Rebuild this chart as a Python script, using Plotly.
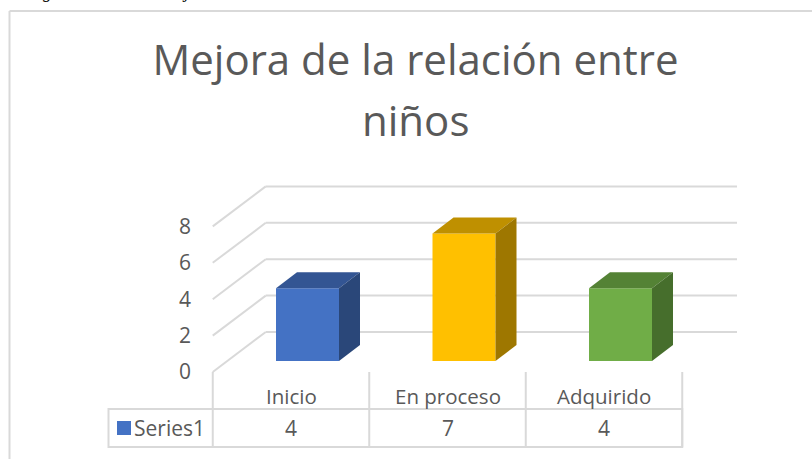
import plotly.graph_objects as go

categories = ["Inicio", "En proceso", "Adquirido"]
values = [4, 7, 4]
series_name = "Series1"
y_ticks = [0, 2, 4, 6, 8]
front_colors = ["#4472C4", "#FFC000", "#70AD47"]
top_colors = ["#335593", "#BF9000", "#548235"]
side_colors = ["#2A4779", "#9E7700", "#466E2C"]
title_line_1 = "Mejora de la relación entre"
title_line_2 = "niños"
caption = "Figura 1. Nivel de mejora"

W, H = 812, 459
STEP, X0, UNIT, Y0 = 156.5, 291.0, 18.2, 372.0
FONT = "Open Sans"
GREY = "#595959"
GRID = "#D9D9D9"

def xv(px):
    return (px - X0) / STEP

def yv(py):
    return (Y0 - py) / UNIT

# sizes of the pseudo-3D construction, in axis units
dx_depth, dy_depth = 53 / STEP, 40 / UNIT
bar_shift, bar_half = 16.5 / STEP, 31.5 / STEP
bar_dx, bar_dy = 21 / STEP, 16 / UNIT
bar_floor = 11 / UNIT
grid_left = -0.5
grid_right = xv(737)

fig = go.Figure()
shapes = []
line_style = dict(color=GRID, width=2)

# gridlines: oblique wall part + back wall part, under the bars
for v in y_ticks:
    shapes.append(dict(type="line", layer="below", x0=grid_left, x1=grid_left + dx_depth,
                       y0=v, y1=v + dy_depth, line=line_style))
    shapes.append(dict(type="line", layer="below", x0=grid_left + dx_depth, x1=grid_right,
                       y0=v + dy_depth, y1=v + dy_depth, line=line_style))

# category and data table rules
rule_x = [grid_left + i for i in range(4)]
table_mid, table_bot = yv(409), yv(447)
for rx in rule_x:
    shapes.append(dict(type="line", layer="below", x0=rx, x1=rx, y0=0, y1=table_bot, line=line_style))
shapes.append(dict(type="rect", layer="below", x0=xv(108.5), x1=rule_x[-1], y0=table_bot, y1=table_mid,
                   line=line_style))
shapes.append(dict(type="rect", x0=xv(117), x1=xv(131), y0=yv(435), y1=yv(421),
                   fillcolor=front_colors[0], line=dict(width=0)))

# chart frame (left and top edges are the only ones in view)
shapes.append(dict(type="line", xref="paper", yref="paper", x0=9.5 / W, x1=9.5 / W, y0=0, y1=1 - 11 / H,
                   line=line_style))
shapes.append(dict(type="line", xref="paper", yref="paper", x0=9.5 / W, x1=1, y0=1 - 11 / H, y1=1 - 11 / H,
                   line=line_style))

# bars
for i, (c, v) in enumerate(zip(categories, values)):
    l, r = i + bar_shift - bar_half, i + bar_shift + bar_half
    b, t = bar_floor, bar_floor + v
    fig.add_trace(go.Scatter(
        x=[l, r, r + bar_dx, l + bar_dx, l], y=[t, t, t + bar_dy, t + bar_dy, t],
        fill="toself", fillcolor=top_colors[i], mode="none",
        showlegend=False, hoverinfo="skip"))
    fig.add_trace(go.Scatter(
        x=[r, r + bar_dx, r + bar_dx, r, r], y=[b, b + bar_dy, t + bar_dy, t, b],
        fill="toself", fillcolor=side_colors[i], mode="none",
        showlegend=False, hoverinfo="skip"))
    fig.add_trace(go.Bar(
        x=[i + bar_shift], y=[v], base=[b], width=[2 * bar_half],
        marker=dict(color=front_colors[i], line=dict(width=0)),
        name=c, showlegend=False))

# table text
for i, (c, v) in enumerate(zip(categories, values)):
    fig.add_annotation(x=i, y=yv(395.5), text=c, showarrow=False,
                       font=dict(family=FONT, size=20.5, color=GREY))
    fig.add_annotation(x=i, y=yv(428), text=str(v), showarrow=False,
                       font=dict(family=FONT, size=21, color=GREY))
fig.add_annotation(x=xv(132), y=yv(428), text=series_name, xanchor="left", showarrow=False,
                   font=dict(family=FONT, size=21, color=GREY))

# second title line and clipped caption
fig.add_annotation(xref="paper", yref="paper", x=415.5 / W, y=1 - 119 / H, text=title_line_2,
                   showarrow=False, yanchor="middle", font=dict(family=FONT, size=42, color=GREY))
fig.add_annotation(xref="paper", yref="paper", x=24 / W, y=1 + 8 / H, yanchor="middle", xanchor="left",
                   text="<i>" + caption + "</i>", showarrow=False,
                   font=dict(family="Liberation Serif", size=18, color="#000000"))

fig.update_layout(
    width=W, height=H, margin=dict(l=0, r=0, t=0, b=0),
    paper_bgcolor="white", plot_bgcolor="white", barmode="overlay",
    xaxis=dict(range=[xv(0), xv(W)], visible=False, fixedrange=True),
    yaxis=dict(range=[yv(H), yv(0)], anchor="free", position=191 / W,
               tickmode="array", tickvals=y_ticks, ticktext=[str(t) for t in y_ticks],
               showgrid=False, zeroline=False, showline=False, ticks="",
               tickfont=dict(family=FONT, size=21, color=GREY), fixedrange=True),
    title=dict(text=title_line_1, x=415.5 / W, xanchor="center", y=1 - 60 / H, yanchor="middle",
               font=dict(family=FONT, size=42, color=GREY)),
    shapes=shapes,
)
fig.write_html("out.html", post_script="document.body.style.margin='0';",
               config={"displayModeBar": False})
